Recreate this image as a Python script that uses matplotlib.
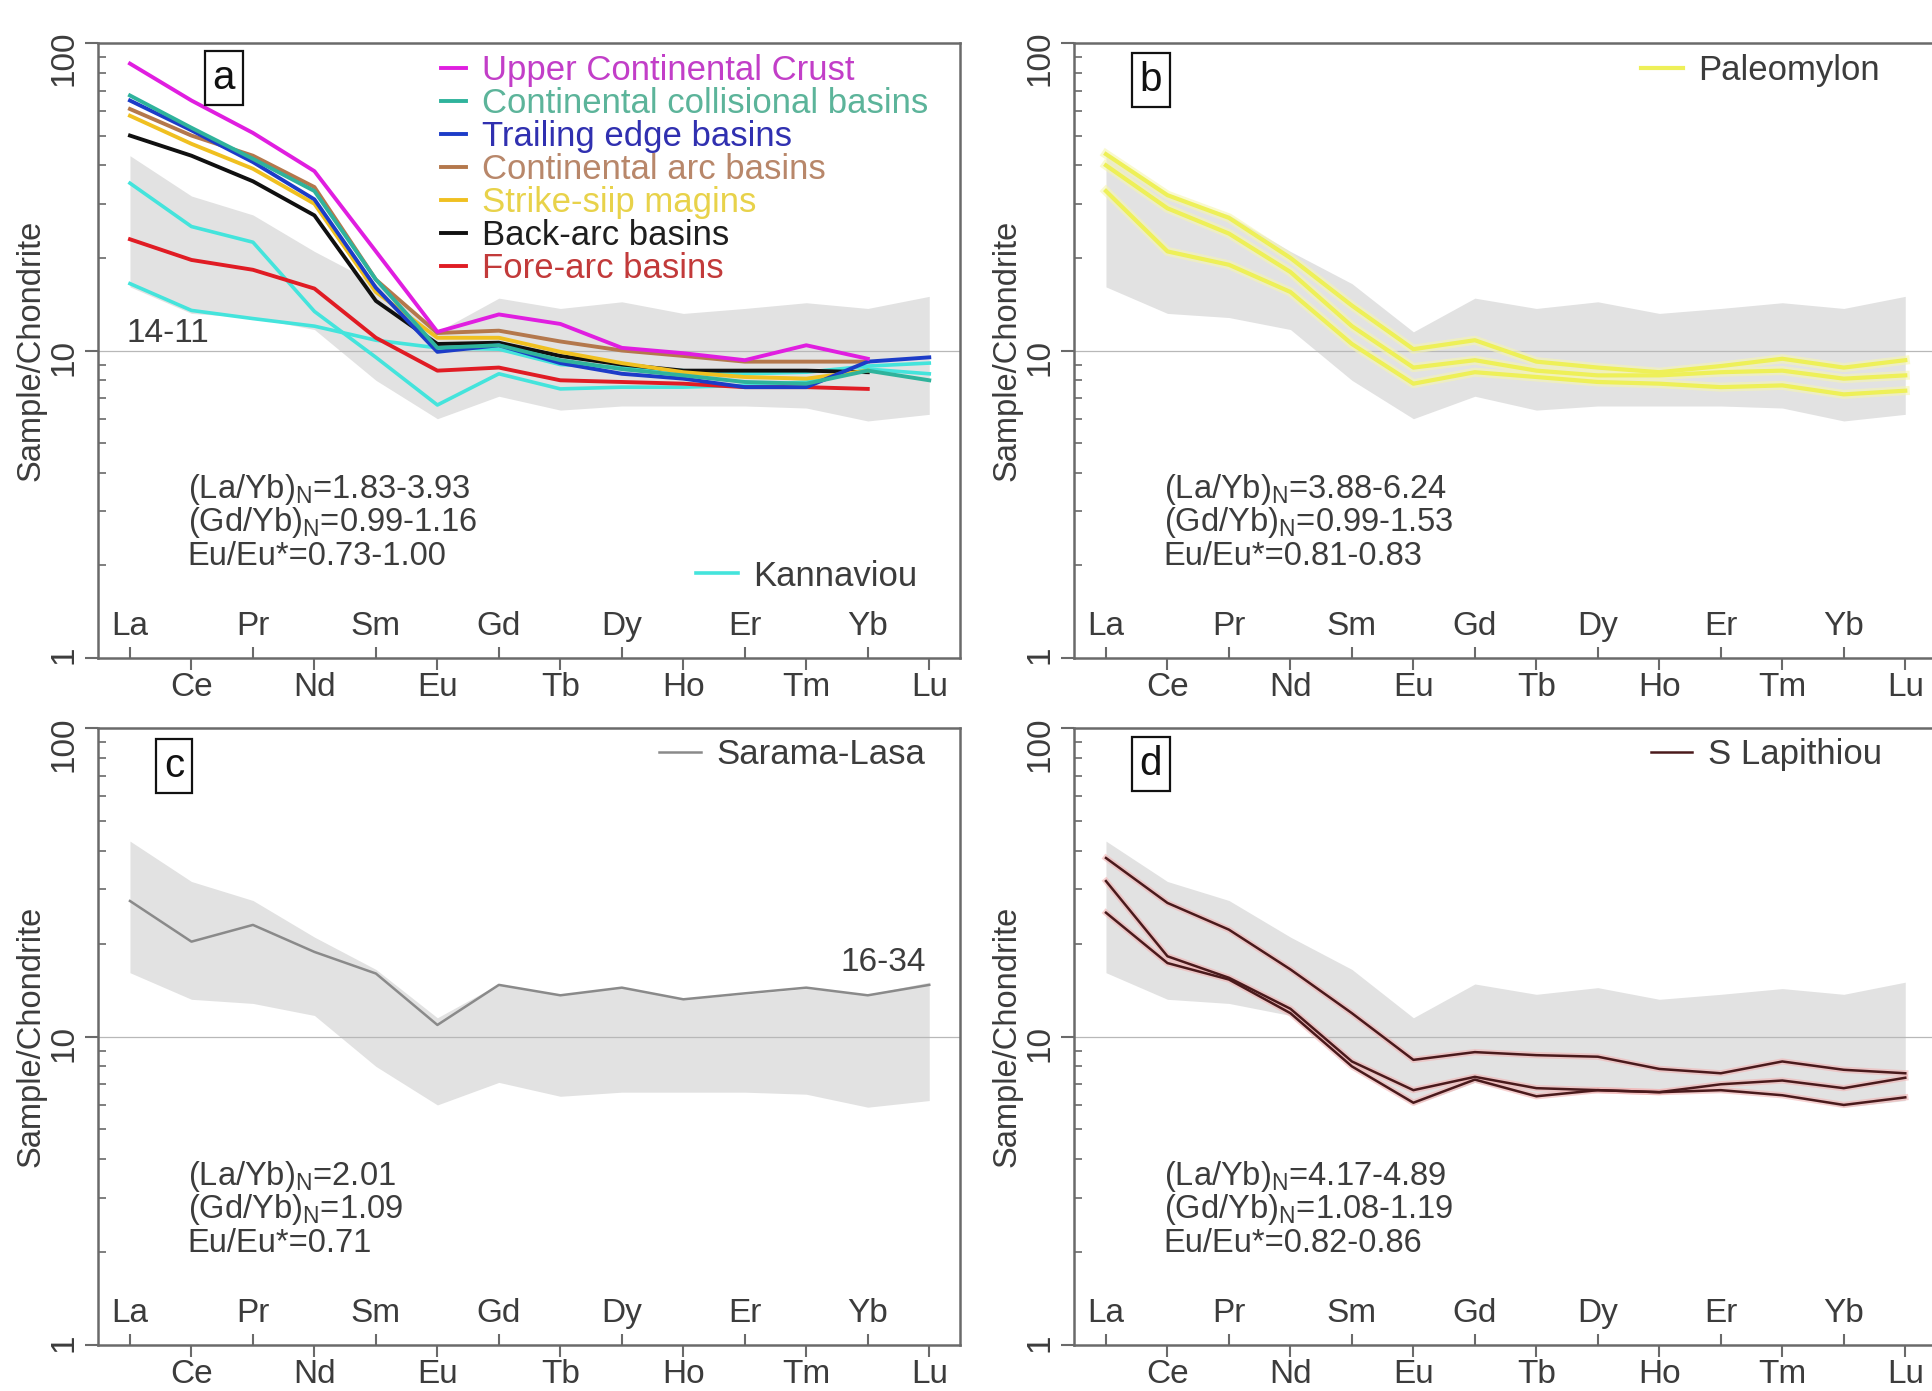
import numpy as np
import matplotlib
matplotlib.use("Agg")
import matplotlib.pyplot as plt
from matplotlib.lines import Line2D
from matplotlib.ticker import LogLocator, NullFormatter

plt.rcParams['font.family'] = ['Liberation Sans', 'DejaVu Sans']

# REE order (no Pm)
elements = ['La', 'Ce', 'Pr', 'Nd', 'Sm', 'Eu', 'Gd', 'Tb', 'Dy', 'Ho', 'Er', 'Tm', 'Yb', 'Lu']
x = np.arange(len(elements))
nan = np.nan

# grey envelope shown in every panel
band_upper = [43, 31.8, 27.6, 21, 16.5, 11.5, 14.8, 13.7, 14.4, 13.2, 13.7, 14.3, 13.7, 15]
band_lower = [16.1, 13.2, 12.8, 11.7, 8.0, 6.0, 7.1, 6.4, 6.6, 6.6, 6.6, 6.5, 5.9, 6.2]

# panel a: reference compositions
ucc = [85.7, 65, 51, 38.3, 21, 11.5, 13.1, 12.2, 10.2, 9.8, 9.3, 10.4, 9.4, nan]
collisional = [67.5, 53, 42, 33, 17, 10.2, 10.4, 9.3, 8.7, 8.3, 7.9, 7.8, 8.6, 8.0]
trailing = [65, 52, 41, 31, 16, 9.9, 10.4, 9.1, 8.4, 8.1, 7.6, 7.6, 9.2, 9.5]
cont_arc = [61, 50, 43, 34, 17, 11.4, 11.6, 10.7, 10.0, 9.6, 9.2, 9.2, 9.2, nan]
strike_slip = [58, 47, 39, 30, 15.5, 11.0, 11.0, 9.9, 9.1, 8.5, 8.2, 8.1, 8.6, nan]
back_arc = [50, 43, 35.5, 27.5, 14.5, 10.5, 10.6, 9.6, 9.0, 8.6, 8.6, 8.6, 8.5, nan]
fore_arc = [23, 19.7, 18.3, 15.9, 11, 8.6, 8.8, 8.0, 7.9, 7.8, 7.6, 7.6, 7.5, nan]

# panel a: Kannaviou samples
kannaviou = [
    [35, 25.3, 22.5, 13.4, 9.5, 6.65, 8.4, 7.5, 7.6, 7.6, 7.7, 7.9, 8.7, 8.4],
    [16.5, 13.5, 12.7, 12.0, 10.8, 10.2, 10.1, 9.0, 8.8, 8.6, 8.4, 8.5, 8.9, 9.1],
]

# panel b: Paleomylon
paleomylon = [
    [43.5, 32, 27, 20, 14, 10.1, 10.8, 9.2, 8.8, 8.5, 8.9, 9.4, 8.8, 9.3],
    [40, 29, 24, 18, 12, 8.8, 9.3, 8.6, 8.3, 8.3, 8.5, 8.6, 8.1, 8.3],
    [33, 21, 19, 15.5, 10.5, 7.8, 8.5, 8.2, 7.9, 7.8, 7.6, 7.7, 7.2, 7.4],
]

# panel c: Sarama-Lasa
sarama = [27.5, 20.3, 23, 18.8, 16, 10.9, 14.7, 13.6, 14.4, 13.2, 13.8, 14.4, 13.6, 14.7]

# panel d: S Lapithiou
lapithiou = [
    [37.9, 27.1, 22.2, 16.5, 11.9, 8.4, 8.9, 8.7, 8.6, 7.85, 7.6, 8.3, 7.8, 7.6],
    [31.9, 18.2, 15.5, 12.3, 8.3, 6.7, 7.4, 6.8, 6.7, 6.6, 7.0, 7.2, 6.8, 7.35],
    [25.2, 17.3, 15.3, 11.9, 8.0, 6.1, 7.25, 6.4, 6.7, 6.6, 6.7, 6.45, 6.0, 6.35],
]

ratio_text = {
    'a': ['1.83-3.93', '0.99-1.16', '0.73-1.00'],
    'b': ['3.88-6.24', '0.99-1.53', '0.81-0.83'],
    'c': ['2.01', '1.09', '0.71'],
    'd': ['4.17-4.89', '1.08-1.19', '0.82-0.86'],
}

W, H = 1932, 1391
AX_COL = '#6a6a6a'
TXT_COL = '#3c3c3c'


def px_box(x0, y0, x1, y1):
    return [x0 / W, 1 - y1 / H, (x1 - x0) / W, (y1 - y0) / H]


def style_axes(ax, key):
    ax.set_yscale('log')
    ax.set_ylim(1, 100)
    ax.set_xlim(-0.52, 13.5)
    ax.fill_between(x, band_lower, band_upper, color='#e2e2e2', lw=0, zorder=0)
    ax.axhline(10, color='#b8b8b8', lw=0.9, zorder=0.5)
    for s in ax.spines.values():
        s.set_color(AX_COL)
        s.set_linewidth(1.8)
    ax.set_yticks([1, 10, 100], labels=['1', '10', '100'])
    ax.yaxis.set_minor_locator(LogLocator(base=10, subs=range(2, 10)))
    ax.yaxis.set_minor_formatter(NullFormatter())
    ax.tick_params(axis='y', which='major', direction='out', length=9.4, width=1.5,
                   color=AX_COL, labelsize=24, labelrotation=90, pad=4, labelcolor=TXT_COL)
    ax.tick_params(axis='y', which='minor', direction='in', length=5.5, width=1.2, color=AX_COL)
    ax.set_xticks(x[::2], labels=elements[::2])
    ax.set_xticks(x[1::2], labels=elements[1::2], minor=True)
    ax.tick_params(axis='x', which='major', direction='in', length=8, width=1.5,
                   color=AX_COL, pad=-34, labelsize=24, labelcolor=TXT_COL)
    ax.tick_params(axis='x', which='minor', direction='out', length=8.5, width=1.5,
                   color=AX_COL, pad=1.5, labelsize=24, labelcolor=TXT_COL)
    ax.set_ylabel('Sample/Chondrite', fontsize=23.5, color=TXT_COL)
    ax.yaxis.set_label_coords(-0.060, 0.5)
    r = ratio_text[key]
    ax.text(0.94, 3.52, '(La/Yb)$_\\mathregular{N}$=' + r[0], fontsize=23.5, color=TXT_COL, va='center')
    ax.text(0.94, 2.75, '(Gd/Yb)$_\\mathregular{N}$=' + r[1], fontsize=23.5, color=TXT_COL, va='center')
    ax.text(0.94, 2.14, 'Eu/Eu*=' + r[2], fontsize=23.5, color=TXT_COL, va='center')


def panel_label(ax, s, fx, fy):
    ax.text(fx, fy, s, transform=ax.transAxes, fontsize=29, ha='center', va='center',
            color='#111111', bbox=dict(boxstyle='square,pad=0.2', fc='white', ec='#111111', lw=1.6),
            zorder=5)


def small_legend(ax, handle, label, fx, fy):
    ax.legend([handle], [label], loc='upper left', bbox_to_anchor=(fx, fy), frameon=False,
              fontsize=25, handlelength=1.2, handletextpad=0.45, borderpad=0, borderaxespad=0,
              labelcolor=TXT_COL)


fig = plt.figure(figsize=(W / 100, H / 100), dpi=100)
ax_a = fig.add_axes(px_box(98, 43, 960, 658))
ax_b = fig.add_axes(px_box(1074, 43, 1936, 658))
ax_c = fig.add_axes(px_box(98, 728, 960, 1345))
ax_d = fig.add_axes(px_box(1074, 728, 1936, 1345))

for ax, k in zip([ax_a, ax_b, ax_c, ax_d], 'abcd'):
    style_axes(ax, k)

# ---- panel a
series_a = [
    ('Upper Continental Crust', ucc, '#e01ee0', '#c23ec8'),
    ('Continental collisional basins', collisional, '#2fb39c', '#5cb49a'),
    ('Trailing edge basins', trailing, '#1c3cc8', '#3030b0'),
    ('Continental arc basins', cont_arc, '#b4784c', '#b8876a'),
    ('Strike-siip magins', strike_slip, '#f0c020', '#e8d24a'),
    ('Back-arc basins', back_arc, '#101010', '#1e1e1e'),
    ('Fore-arc basins', fore_arc, '#e01c24', '#c23a3a'),
]
for k in kannaviou:
    kan_line, = ax_a.plot(x, k, color='#44e4dc', lw=2.6, zorder=2)
for label, vals, col, tcol in series_a[::-1]:
    ax_a.plot(x, vals, color=col, lw=2.8, zorder=3)
handles_a = [Line2D([], [], color=c, lw=2.8) for _, _, c, _ in series_a]
leg = ax_a.legend(handles_a, [s[0] for s in series_a], loc='upper left',
                  bbox_to_anchor=(0.398, 0.982), frameon=False, fontsize=25,
                  handlelength=0.72, handletextpad=0.45, labelspacing=0.0, borderpad=0,
                  borderaxespad=0, labelcolor=[s[3] for s in series_a])
ax_a.add_artist(leg)
small_legend(ax_a, kan_line, 'Kannaviou', 0.694, 0.16)
ax_a.text(-0.05, 11.4, '14-11', fontsize=24, color=TXT_COL, va='center')
panel_label(ax_a, 'a', 0.146, 0.943)

# ---- panel b
for p in paleomylon:
    ax_b.plot(x, p, color='#f6f6b0', lw=6.5, alpha=0.6, zorder=2)
for p in paleomylon:
    pal_line, = ax_b.plot(x, p, color='#eef058', lw=3, zorder=3)
small_legend(ax_b, pal_line, 'Paleomylon', 0.658, 0.982)
panel_label(ax_b, 'b', 0.0893, 0.94)

# ---- panel c
sar_line, = ax_c.plot(x, sarama, color='#8a8a8a', lw=1.8, zorder=3)
small_legend(ax_c, sar_line, 'Sarama-Lasa', 0.651, 0.984)
ax_c.text(12.95, 17.4, '16-34', fontsize=24, color=TXT_COL, ha='right', va='center')
panel_label(ax_c, 'c', 0.088, 0.938)

# ---- panel d
for s in lapithiou:
    ax_d.plot(x, s, color='#f2b4b4', lw=4.5, alpha=0.6, zorder=2)
for s in lapithiou:
    lap_line, = ax_d.plot(x, s, color='#4a1a1c', lw=1.8, zorder=3)
small_legend(ax_d, lap_line, 'S Lapithiou', 0.669, 0.984)
panel_label(ax_d, 'd', 0.0893, 0.941)

fig.savefig('out.png', dpi=100)
